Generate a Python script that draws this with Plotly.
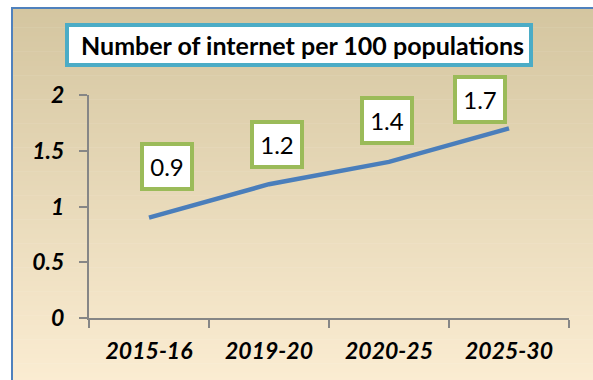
import plotly.graph_objects as go

# Chart data
periods = ["2015-16", "2019-20", "2020-25", "2025-30"]
internet_per_100 = [0.9, 1.2, 1.4, 1.7]
y_ticks = [0, 0.5, 1, 1.5, 2]
y_tick_labels = ["0", "0.5", "1", "1.5", "2"]
title_text = "Number of internet per 100 populations"

# Manual placement of the value labels (pixels relative to each point)
label_shift_x = [18, 8, -2, -29]
label_shift_y = [51, 40, 41, 29]

W, H = 593, 380
ML, MR, MT, MB = 89, 24, 95, 62
PW, PH = W - ML - MR, H - MT - MB


def px_x(p):
    return (p - ML) / PW


def px_y(p):
    return (H - MB - p) / PH


fig = go.Figure()

fig.add_trace(go.Scatter(
    x=periods, y=internet_per_100, mode="lines",
    line=dict(color="#4a7ebb", width=4.5),
    hoverinfo="skip", showlegend=False,
))

shapes = []
# Vertical gradient behind the chart frame
top_c = (212, 198, 160)
bot_c = (252, 237, 211)
y0p, y1p = 8, 392
n = 80
for i in range(n):
    t = i / (n - 1)
    c = tuple(round(top_c[k] + (bot_c[k] - top_c[k]) * t) for k in range(3))
    a = y0p + (y1p - y0p) * i / n
    b = y0p + (y1p - y0p) * (i + 1) / n + 0.6
    shapes.append(dict(
        type="rect", xref="paper", yref="paper", layer="below",
        x0=px_x(12), x1=px_x(600), y0=px_y(b), y1=px_y(a),
        line=dict(width=0), fillcolor="rgb(%d,%d,%d)" % c,
    ))
# Frame border
shapes.append(dict(
    type="rect", xref="paper", yref="paper", layer="below",
    x0=px_x(12), x1=px_x(600), y0=px_y(400), y1=px_y(8),
    line=dict(color="#4f81bd", width=2), fillcolor="rgba(0,0,0,0)",
))
# Title box
shapes.append(dict(
    type="rect", xref="paper", yref="paper", layer="above",
    x0=px_x(67), x1=px_x(531), y0=px_y(65), y1=px_y(25),
    line=dict(color="#4bacc6", width=4), fillcolor="white",
))

annotations = [dict(
    text="<b>%s</b>" % title_text, xref="paper", yref="paper",
    x=px_x(302), y=px_y(45), showarrow=False,
    xanchor="center", yanchor="middle",
    font=dict(family="Lato", size=25, color="black"),
)]

for cat, val, dx, dy in zip(periods, internet_per_100, label_shift_x, label_shift_y):
    annotations.append(dict(
        text=str(val), x=cat, y=val, xref="x", yref="y",
        showarrow=False, xshift=dx, yshift=dy,
        bgcolor="white", bordercolor="#9bbb59", borderwidth=4, borderpad=3,
        width=40, height=35,
        font=dict(family="Lato", size=24, color="black"),
    ))

tick_font = dict(family="Lato", size=23, color="black", weight="bold", style="italic")

fig.update_layout(
    width=W, height=H,
    margin=dict(l=ML, r=MR, t=MT, b=MB),
    paper_bgcolor="white", plot_bgcolor="rgba(0,0,0,0)",
    shapes=shapes, annotations=annotations,
    xaxis=dict(
        type="category", range=[-0.5, 3.5], tickson="boundaries",
        showline=True, linecolor="#868686", linewidth=2,
        ticks="outside", ticklen=8, tickwidth=2, tickcolor="#868686",
        showgrid=False, zeroline=False, ticklabelstandoff=11,
        tickfont=tick_font,
    ),
    yaxis=dict(
        range=[0, 2], tickvals=y_ticks, ticktext=y_tick_labels,
        showline=True, linecolor="#868686", linewidth=2,
        ticks="outside", ticklen=8, tickwidth=2, tickcolor="#868686",
        showgrid=False, zeroline=False, ticklabelstandoff=10,
        tickfont=tick_font,
    ),
)

fig.write_html("out.html")
